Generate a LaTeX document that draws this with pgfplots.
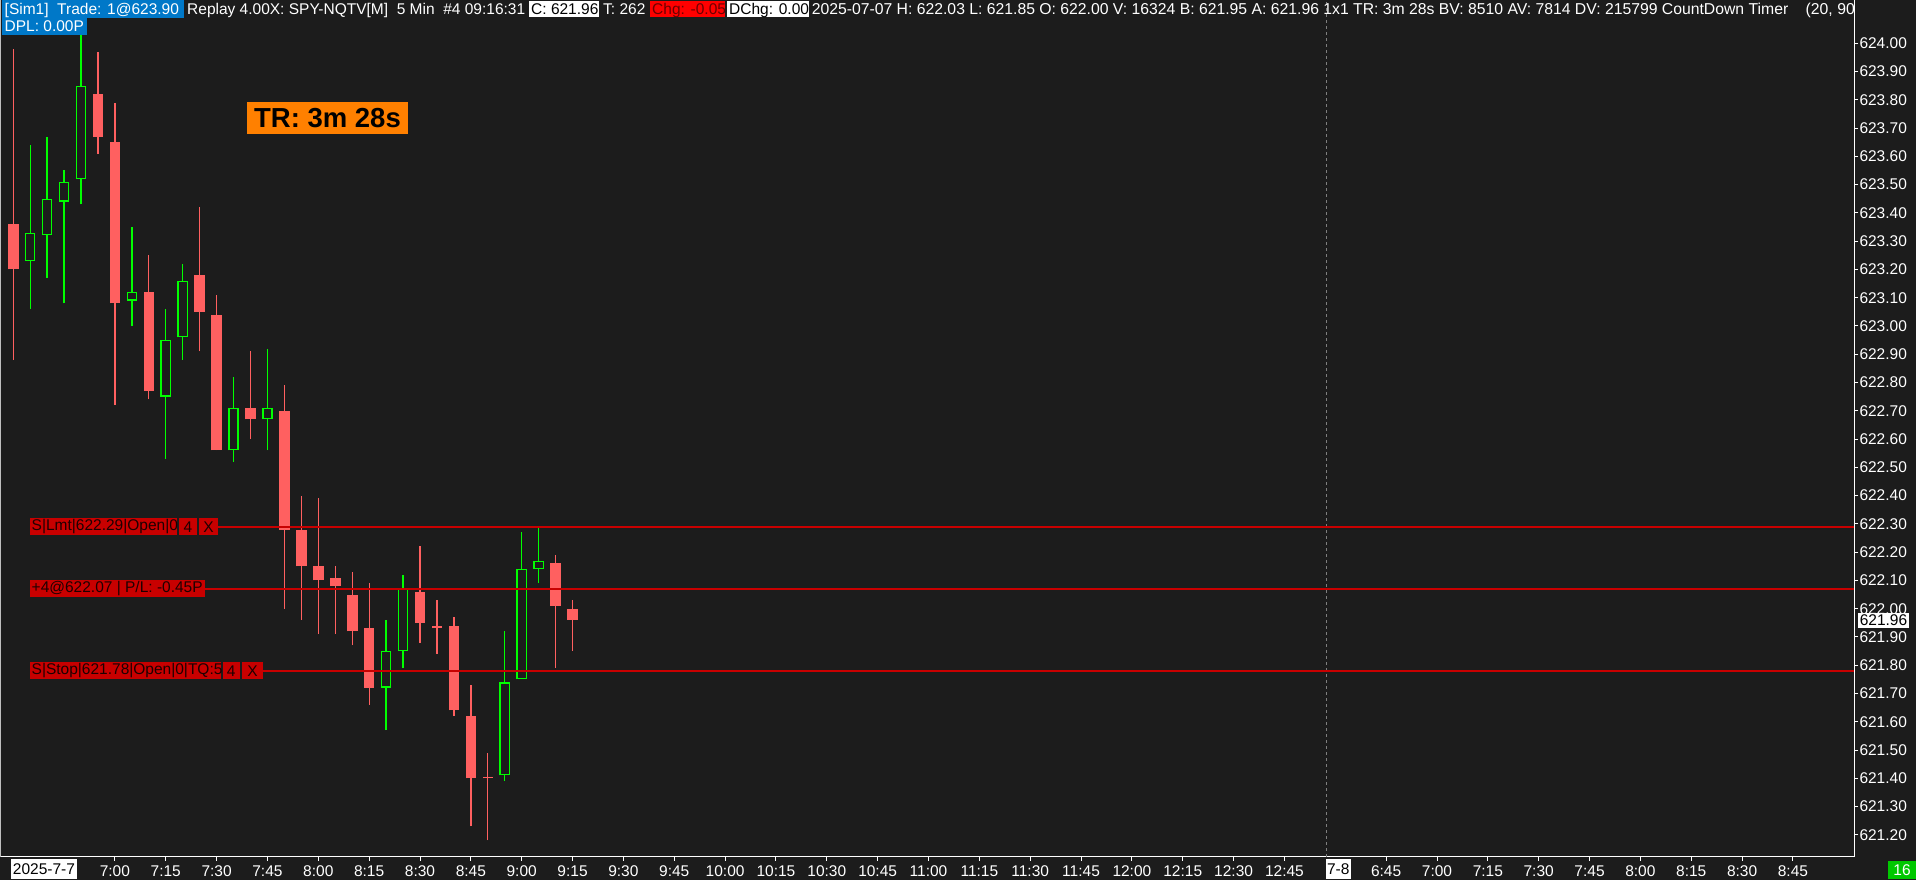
\documentclass[border=0pt]{standalone}
\usepackage{fontspec}
\setmainfont{Liberation Sans}
\usepackage{pgfplots}
\pgfplotsset{compat=1.18}
\usepackage{pgfplotstable}

\definecolor{bg}{HTML}{1C1C1C}
\definecolor{cred}{HTML}{FF6060}
\definecolor{cgreen}{HTML}{00FF00}
\definecolor{ordred}{HTML}{C80000}
\definecolor{lbltxt}{HTML}{1E0000}
\definecolor{hblue}{HTML}{0078C8}
\definecolor{chgred}{HTML}{FF0000}
\definecolor{chgtxt}{HTML}{6E0000}
\definecolor{trorange}{HTML}{FF8000}
\definecolor{cntgreen}{HTML}{00C800}

% bar index: 0 = 6:30 on 2025-7-7, 5 min per bar; columns open high low close
\pgfplotstableread{
i  o       h      l      c
0  623.36  623.98 622.88 623.20
5  623.82  623.97 623.61 623.67
6  623.65  623.79 622.72 623.08
8  623.12  623.25 622.74 622.77
11 623.18  623.42 622.91 623.05
12 623.04  623.11 622.56 622.56
14 622.71  622.91 622.60 622.67
16 622.70  622.79 622.00 622.28
17 622.28  622.40 621.96 622.15
18 622.15  622.39 621.91 622.10
19 622.11  622.15 621.91 622.08
20 622.05  622.13 621.87 621.92
21 621.93  622.09 621.66 621.72
24 622.06  622.22 621.88 621.95
25 621.94  622.03 621.84 621.93
26 621.94  621.97 621.62 621.64
27 621.62  621.73 621.23 621.40
28 621.404 621.49 621.18 621.40
32 622.16  622.19 621.79 622.01
33 622.00  622.03 621.85 621.96
}\redbars

\pgfplotstableread{
i  o       h      l      c
1  623.23  623.64 623.06 623.33
2  623.32  623.67 623.17 623.45
3  623.44  623.55 623.08 623.51
4  623.52  624.03 623.43 623.85
7  623.09  623.35 623.00 623.12
9  622.75  623.06 622.53 622.95
10 622.96  623.22 622.88 623.16
13 622.56  622.82 622.52 622.71
15 622.67  622.92 622.56 622.71
22 621.72  621.96 621.57 621.85
23 621.85  622.12 621.79 622.07
29 621.41  621.92 621.39 621.74
30 621.75  622.27 621.75 622.14
31 622.14  622.29 622.09 622.17
}\greenbars

\newcommand\fs{\fontsize{15.5}{18}\selectfont}
\pgfplotsset{
  bars/.style={only marks, mark=*, mark size=0pt,
    mark options={draw=none, fill=none},
    error bars/.cd, y dir=plus, y explicit, error mark=none,
    error bar style={#1}},
}

\begin{document}
\begin{tikzpicture}[x=1pt,y=1pt]
\useasboundingbox (0,0) rectangle (1916,880);
\fill[bg] (0,0) rectangle (1916,880);

\begin{axis}[
  scale only axis, width=1854.3pt, height=856.7pt,
  at={(0pt,23.3pt)}, anchor=south west,
  xmin=-0.779, xmax=108.62, ymin=621.1227, ymax=624.153,
  axis x line*=bottom, axis y line*=right,
  axis line style={-, white, line width=1pt},
  tick style={white, line width=1pt},
  major tick length=4pt, tick align=outside,
  xtick={6,9,12,15,18,21,24,27,30,33,36,39,42,45,48,51,54,57,60,63,66,69,72,75,81,84,87,90,93,96,99,102,105},
  xticklabels={7:00,7:15,7:30,7:45,8:00,8:15,8:30,8:45,9:00,9:15,9:30,9:45,10:00,10:15,10:30,10:45,11:00,11:15,11:30,11:45,12:00,12:15,12:30,12:45,6:45,7:00,7:15,7:30,7:45,8:00,8:15,8:30,8:45},
  ytick={621.2,621.3,621.4,621.5,621.6,621.7,621.8,621.9,622.0,622.1,622.2,622.3,622.4,622.5,622.6,622.7,622.8,622.9,623.0,623.1,623.2,623.3,623.4,623.5,623.6,623.7,623.8,623.9,624.0},
  /pgf/number format/assume math mode=true,
  yticklabel style={/pgf/number format/fixed, /pgf/number format/fixed zerofill,
    /pgf/number format/precision=2, /pgf/number format/1000 sep={}},
  tick label style={font=\fs, text=white},
  yticklabel style={anchor=west, inner xsep=1pt},
  xticklabel style={anchor=north, inner ysep=4.7pt},
]
% wicks
\addplot[bars={cred, line width=1.3pt}] table[x=i, y=l, y error expr=\thisrow{h}-\thisrow{l}] {\redbars};
\addplot[bars={cgreen, line width=1.3pt}] table[x=i, y=l, y error expr=\thisrow{h}-\thisrow{l}] {\greenbars};
% bodies
\addplot[bars={cred, line width=10.6pt}] table[x=i, y=c, y error expr=\thisrow{o}-\thisrow{c}] {\redbars};
\addplot[bars={cgreen, line width=10.6pt}] table[x=i, y=o, y error expr=\thisrow{c}-\thisrow{o}] {\greenbars};
\addplot[bars={bg, line width=7.8pt, shorten <=1.4pt, shorten >=1.4pt}] table[x=i, y=o, y error expr=\thisrow{c}-\thisrow{o}] {\greenbars};
% session break
\addplot[gray, line width=1pt, dash pattern=on 3pt off 3pt] coordinates {(77.5,621.1227) (77.5,624.153)};
% order lines
\addplot[ordred, line width=1.8pt] coordinates {(12.08,622.29) (108.62,622.29)};
\addplot[ordred, line width=1.8pt] coordinates {(11.32,622.07) (108.62,622.07)};
\addplot[ordred, line width=1.8pt] coordinates {(14.74,621.78) (108.62,621.78)};
\end{axis}

\draw[white!75!black, line width=1pt] (0.5,23.3) -- (0.5,880);

% order labels
\tikzset{lt/.style={font=\fs, text=lbltxt, inner sep=0}}
\fill[ordred] (30,344.8) rectangle (177,361.8);
\fill[ordred] (179,344.8) rectangle (197,361.8);
\fill[ordred] (199,344.8) rectangle (218,361.8);
\node[lt, anchor=west] at (31.5,353.3) {S|Lmt|622.29|Open|0};
\node[lt] at (188,353.3) {4};
\node[lt] at (208.5,353.3) {X};

\fill[ordred] (30,282.6) rectangle (205,299.6);
\node[lt, anchor=west] at (31.5,291.1) {+4@622.07 | P/L: -0.45P};

\fill[ordred] (30,200.6) rectangle (221,217.6);
\fill[ordred] (222.5,200.6) rectangle (240,217.6);
\fill[ordred] (242,200.6) rectangle (263,217.6);
\node[lt, anchor=west] at (31.5,209.1) {S|Stop|621.78|Open|0|TQ:5};
\node[lt] at (231.2,209.1) {4};
\node[lt] at (252.5,209.1) {X};

% countdown box
\fill[trorange] (247,746.3) rectangle (408,778.3);
\node[font=\fontsize{27.5}{30}\selectfont\bfseries, text=black, inner sep=0] at (327.5,762.3) {TR: 3m 28s};

% header
\begin{scope}
\clip (0,0) rectangle (1853,880);
\fill[hblue] (2,861.7) rectangle (184,880);
\fill[hblue] (2,845.3) rectangle (87,861.7);
\fill[white] (529,863.3) rectangle (599,879);
\fill[chgred] (650,863.3) rectangle (725,879);
\fill[white] (727,863.3) rectangle (808.5,879);
\tikzset{ht/.style={font=\fs, inner sep=0, anchor=base west}}
\node[ht, text=white] at (4.5,865) {[Sim1]~ Trade: 1@623.90};
\node[ht, text=white] at (187,865) {Replay 4.00X: SPY-NQTV[M]~ 5 Min~ \#4 09:16:31};
\node[ht, text=black] at (531,865) {C: 621.96};
\node[ht, text=white] at (603,865) {T: 262};
\node[ht, text=chgtxt] at (652,865) {Chg: -0.05};
\node[ht, text=black] at (729,865) {DChg: 0.00};
\node[ht, text=white, font=\fontsize{15.75}{18}\selectfont] at (811.6,865) {2025-07-07 H: 622.03 L: 621.85 O: 622.00 V: 16324 B: 621.95 A: 621.96 1x1 TR: 3m 28s BV: 8510 AV: 7814 DV: 215799 CountDown Timer~ ~ (20, 90)};
\node[ht, text=white] at (4.5,848.3) {DPL: 0.00P};
\end{scope}

% date labels, current price, counter
\fill[white] (11,1) rectangle (77,21);
\node[font=\fs, text=black, inner sep=0] at (44,11) {2025-7-7};
\fill[white] (1326,1) rectangle (1350.5,21);
\node[font=\fs, text=black, inner sep=0] at (1338.2,11) {7-8};
\fill[white] (1858.3,251.7) rectangle (1908.7,267.3);
\node[font=\fs, text=black, inner sep=0] at (1883.5,259.5) {621.96};
\fill[cntgreen] (1888,1.3) rectangle (1916,19.3);
\node[font=\fs, text=white, inner sep=0] at (1902,10.3) {16};
\end{tikzpicture}
\end{document}
